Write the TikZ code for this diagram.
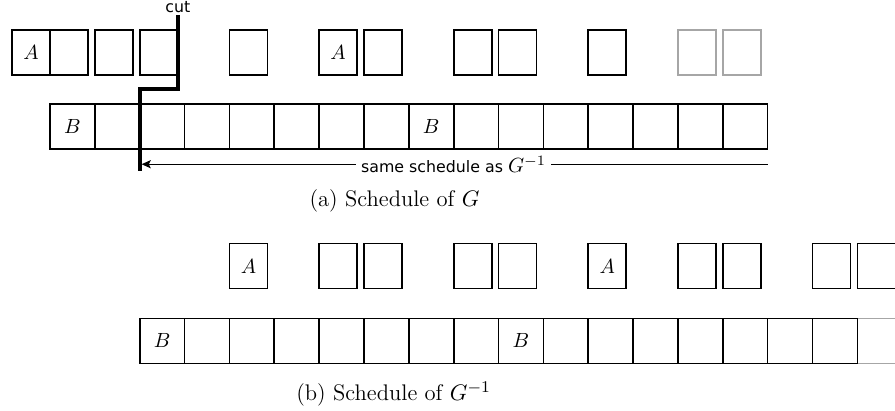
\documentclass[tikz,border=0pt]{standalone}
\usepackage{fontspec}
\newfontfamily\notefont{DejaVu Sans}
\usepackage{amsmath}
\usetikzlibrary{arrows.meta,positioning,calc}

\begin{document}
\begin{tikzpicture}[x=0.768cm, y=0.768cm, every node/.style={font=\normalsize},
  slotA/.style={rectangle, draw, line width=0.8pt, inner sep=0pt, outer sep=0pt, minimum width=0.652cm, minimum height=0.768cm, anchor=south west},
  slotB/.style={rectangle, draw, line width=0.8pt, inner sep=0pt, outer sep=0pt, minimum width=0.768cm, minimum height=0.768cm, anchor=south west},
  faded/.style={draw=gray!70},
  note/.style={font=\notefont\fontsize{7.7}{9}\selectfont},
  caption/.style={anchor=base, font=\fontsize{11}{13}\selectfont}]
\useasboundingbox (-1.116,0) rectangle (18.84,9.152);

% (a) schedule of G
\node[slotA] (gam) at (-0.85,7.48) {$A$};
\foreach \i in {0,1,2,4,7,9,10,12} \node[slotA] (ga\i) at (\i,7.48) {};
\node[slotA] (ga6) at (6,7.48) {$A$};
\foreach \i in {14,15} \node[slotA, faded] (ga\i) at (\i,7.48) {};
\node[slotB] (gb0) at (0,5.83) {$B$};
\foreach \i in {1,...,7,9,10,...,15} \node[slotB] (gb\i) at (\i,5.83) {};
\node[slotB] (gb8) at (8,5.83) {$B$};

% the cut
\coordinate (cuttop) at (2.85,8.82);
\coordinate (cutstep) at (2,7.16);
\coordinate (cutbot) at (2,5.33);
\draw[line width=1.8pt] (cuttop) |- (cutstep) -- (cutbot);
\node[note, anchor=south, inner sep=1pt] (cutlbl) at (cuttop) {cut};
\coordinate (samefrom) at (16,5.49);
\coordinate (sameto) at (2,5.49);
\draw[-{Stealth[length=4.5pt, width=4pt, inset=1pt]}, line width=0.6pt, shorten >=0.9pt] (samefrom) -- node[note, fill=white, inner sep=2.5pt] (samelbl) {same schedule as \normalsize$G^{-1}$} (sameto);
\node[caption] (capa) at (7.68,4.55) {(a) Schedule of $G$};

% (b) schedule of G^{-1}
\node[slotB, faded] (hb16) at (18,1.05) {};
\node[slotB] (hb0) at (2,1.05) {$B$};
\foreach \i in {3,...,9,11,12,...,17} \node[slotB] (hb\i) at (\i,1.05) {};
\node[slotB] (hb8) at (10,1.05) {$B$};
\node[slotA] (ha4) at (4,2.72) {$A$};
\foreach \i in {6,7,9,10,14,15,17,18} \node[slotA] (ha\i) at (\i,2.72) {};
\node[slotA] (ha12) at (12,2.72) {$A$};
\node[caption] (capb) at (7.66,0.223) {(b) Schedule of $G^{-1}$};
\end{tikzpicture}
\end{document}
